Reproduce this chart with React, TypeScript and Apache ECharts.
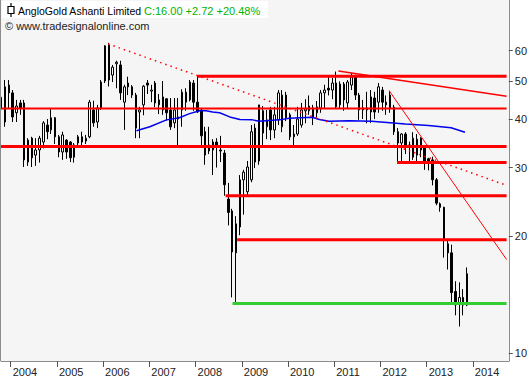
import React, { useEffect, useRef } from "react";
import * as echarts from "echarts";

// ---- data ----
const FIRST_YEAR = 2003;
const FIRST_MONTH = 10;

const opens = [
  42.5, 39.3, 48.9, 46.7, 41.5, 44.0, 44.0, 31.0, 35.7, 32.3, 33.3, 34.9,
  38.6, 37.5, 40.3, 36.0, 32.9, 35.3, 34.9, 31.9, 34.7, 36.0, 35.1, 36.0,
  42.2, 39.3, 42.7, 50.1, 62.0, 51.9, 55.5, 55.1, 44.2, 49.5, 48.4, 46.1,
  41.7, 43.5, 49.5, 47.2, 49.5, 43.5, 42.2, 45.1, 42.2, 39.1, 40.0, 42.2,
  44.2, 44.8, 49.5, 44.2, 42.2, 37.1, 33.1, 33.3, 34.9, 33.3, 32.7, 24.9,
  23.2, 18.1, 21.1, 27.9, 26.0, 27.9, 37.9, 31.2, 42.0, 38.2, 42.2, 37.5,
  39.8, 38.2, 46.1, 41.0, 36.0, 36.6, 38.6, 42.0, 42.0, 42.7, 41.5, 42.7,
  46.7, 48.0, 47.5, 49.5, 43.5, 49.2, 44.0, 48.9, 51.3, 46.1, 42.7, 42.7,
  45.6, 45.3, 44.2, 47.5, 44.2, 46.1, 42.9, 37.1, 34.7, 36.6, 33.9, 31.9,
  32.3, 35.7, 33.7, 31.6, 31.4, 27.9, 24.2, 23.7, 19.1, 18.1, 14.4, 13.4,
  13.9, 13.28,
];
const closes = [
  45.5, 48.4, 46.7, 40.5, 43.2, 42.7, 31.4, 35.3, 31.8, 33.3, 35.7, 39.1,
  37.1, 40.3, 36.0, 32.9, 36.4, 32.9, 31.8, 34.3, 36.0, 34.9, 35.7, 44.2,
  39.1, 42.7, 49.8, 61.7, 50.4, 54.4, 56.0, 46.7, 48.4, 48.4, 46.1, 37.9,
  42.2, 48.6, 48.9, 47.5, 44.0, 44.8, 45.6, 41.5, 38.2, 42.2, 40.5, 46.9,
  46.9, 49.8, 44.2, 41.7, 36.2, 32.3, 34.3, 34.9, 33.9, 33.1, 27.1, 23.0,
  18.2, 21.5, 27.9, 29.2, 30.1, 37.1, 31.0, 43.5, 36.8, 39.8, 37.5, 41.0,
  46.7, 46.1, 40.3, 36.0, 36.6, 40.0, 42.2, 42.5, 43.2, 40.5, 43.0, 46.7,
  47.5, 47.5, 49.5, 43.0, 49.2, 44.8, 49.8, 51.3, 46.1, 42.2, 42.2, 42.2,
  41.7, 41.7, 48.4, 44.2, 43.5, 42.7, 37.1, 34.7, 36.6, 34.3, 34.3, 35.7,
  35.5, 33.3, 31.0, 31.0, 27.9, 24.3, 23.7, 19.5, 18.1, 14.3, 13.3, 13.9,
  13.28, 16.0,
];
const lows = [
  41.0, 38.2, 42.7, 39.3, 39.3, 41.0, 30.1, 30.3, 30.1, 30.3, 30.9, 33.6,
  35.5, 36.6, 34.5, 31.9, 31.4, 31.6, 31.0, 30.9, 33.9, 33.9, 34.5, 35.7,
  38.2, 37.9, 42.2, 49.5, 48.5, 49.8, 48.0, 44.8, 37.5, 46.1, 45.3, 35.7,
  35.7, 40.9, 46.4, 44.2, 42.9, 41.2, 41.0, 39.6, 37.5, 37.9, 33.9, 38.2,
  42.0, 44.4, 42.0, 41.5, 33.7, 30.5, 32.5, 28.7, 30.0, 31.0, 25.4, 21.3,
  13.9, 13.4, 20.1, 22.7, 25.5, 27.5, 29.9, 30.5, 33.9, 35.5, 35.3, 35.7,
  38.6, 37.0, 39.5, 35.3, 34.3, 36.2, 38.0, 39.0, 41.0, 38.6, 40.0, 41.5,
  42.7, 46.0, 45.0, 42.5, 42.5, 42.0, 42.7, 47.5, 44.8, 39.8, 40.0, 39.0,
  39.1, 40.0, 41.5, 42.0, 41.0, 41.5, 36.4, 30.9, 31.2, 32.5, 31.2, 31.4,
  30.9, 31.9, 29.6, 29.5, 27.0, 24.0, 23.1, 17.6, 16.4, 13.4, 12.5, 11.7,
  12.5, 13.2,
];
const highs = [
  47.0, 50.4, 50.4, 47.5, 44.8, 44.8, 44.8, 35.7, 36.0, 35.7, 36.2, 39.5,
  40.0, 42.7, 40.5, 36.4, 37.1, 35.5, 35.1, 34.7, 36.4, 37.1, 36.4, 44.8,
  44.6, 43.5, 50.4, 62.0, 62.8, 55.1, 56.5, 56.5, 49.0, 51.4, 48.9, 46.7,
  43.0, 48.9, 50.4, 49.0, 50.1, 46.4, 50.1, 45.3, 45.3, 45.3, 45.3, 47.7,
  48.0, 50.4, 50.4, 51.6, 42.5, 38.2, 38.2, 35.5, 35.7, 36.2, 33.3, 27.4,
  23.5, 22.5, 28.7, 29.6, 31.2, 38.6, 38.9, 43.5, 43.2, 42.2, 43.0, 43.0,
  47.5, 47.5, 47.0, 41.5, 38.6, 43.0, 44.0, 45.0, 46.0, 43.5, 44.5, 47.5,
  49.0, 51.5, 51.0, 53.0, 50.0, 49.8, 50.4, 52.5, 52.0, 46.7, 44.8, 47.0,
  47.5, 47.0, 49.5, 48.4, 46.0, 47.3, 43.5, 37.9, 36.8, 37.0, 35.0, 37.0,
  36.6, 35.9, 34.3, 31.8, 32.0, 28.2, 24.4, 23.8, 19.5, 19.0, 15.3, 15.2,
  14.6, 16.6,
];

// moving average (year, price)
const maYears = [
  2006.72, 2007.01, 2007.37, 2007.65, 2007.87, 2008.09, 2008.23, 2008.37,
  2008.52, 2008.74, 2008.96, 2009.23, 2009.38, 2009.81, 2010.03, 2010.52,
  2010.68, 2010.89, 2011.32, 2011.81, 2012.54, 2013.04, 2013.53, 2013.83,
];
const maValues = [
  37.3, 38.2, 39.8, 40.3, 41.3, 42.0, 42.0, 41.7, 41.5, 40.5, 39.9, 39.8,
  39.5, 39.8, 40.2, 40.4, 39.9, 39.5, 39.6, 39.5, 38.85, 38.5, 38.0, 37.0,
];

// horizontal levels
const resistanceValues = [51.5, 42.6, 34.0, 30.9, 25.4, 19.57];
const resistanceStarts = [2008.04, 2003.79, 2003.79, 2012.36, 2008.65, 2008.9];
const supportValue = 13.4;
const supportStart = 2008.8;
const levelEnd = 2014.73;

// trend lines [year, price]
const dottedTrend = [[2006.11, 62.4], [2014.73, 27.0]];
const upperTrend = [[2011.09, 53.2], [2014.73, 45.8]];
const steepTrend = [[2012.19, 47.3], [2014.73, 17.4]];

const yearTicks = [2004, 2005, 2006, 2007, 2008, 2009, 2010, 2011, 2012, 2013, 2014];
const priceTicks = [10, 20, 30, 40, 50, 60];

const titleName = "AngloGold Ashanti Limited";
const titleQuote = "C:16.00 +2.72 +20.48%";
const titleSource = "\u00a9 www.tradesignalonline.com";

const X_MIN = 2003.7906;
const X_MAX = 2014.777;
const Y_MIN = 9.537;
const Y_MAX = 80.97;

const FONT = "'Liberation Sans', Arial, sans-serif";

function monthTime(i: number): number {
  const m = FIRST_MONTH - 1 + i;
  const y = FIRST_YEAR + Math.floor(m / 12);
  const mo = (m % 12) + 1;
  return y + (mo - 0.5) / 12;
}

export default function App() {
  const ref = useRef<HTMLDivElement>(null);

  useEffect(() => {
    document.body.style.margin = "0";
    if (!ref.current) return;
    const chart = echarts.init(ref.current, null, { renderer: "svg" });

    const candles = opens.map((o, i) => [monthTime(i), o, closes[i], lows[i], highs[i]]);
    const ma = maYears.map((t, i) => [t, maValues[i]]);

    const levelSeries = resistanceValues.map((v, i) => ({
      type: "line",
      data: [[resistanceStarts[i], v], [levelEnd, v]],
      symbol: "none",
      silent: true,
      z: 5,
      lineStyle: { color: "#ff0000", width: i === 1 ? 2 : 3 },
    }));

    const option: any = {
      animation: false,
      backgroundColor: "#ffffff",
      grid: {
        left: 1,
        right: 20,
        top: 0,
        bottom: 19,
        show: true,
        backgroundColor: "#f5f5f5",
        borderWidth: 0,
      },
      xAxis: {
        type: "value",
        min: X_MIN,
        max: X_MAX,
        axisLine: { show: true, onZero: false, lineStyle: { color: "#8c8c8c", width: 1 } },
        axisTick: { show: true, customValues: yearTicks, length: 6, lineStyle: { color: "#555" } },
        axisLabel: {
          customValues: yearTicks,
          formatter: (v: number) => String(Math.round(v)),
          align: "left",
          padding: [0, 0, 0, 2],
          margin: 5,
          color: "#222",
          fontFamily: FONT,
          fontSize: 11,
        },
        splitLine: { show: false },
      },
      yAxis: {
        type: "log",
        logBase: 10,
        position: "right",
        min: Y_MIN,
        max: Y_MAX,
        axisLine: { show: true, lineStyle: { color: "#8c8c8c", width: 1 } },
        axisTick: { show: true, customValues: priceTicks, length: 4, lineStyle: { color: "#555" } },
        axisLabel: {
          customValues: priceTicks,
          formatter: (v: number) => String(Math.round(v)),
          margin: 6,
          color: "#222",
          fontFamily: FONT,
          fontSize: 11,
        },
        splitLine: { show: false },
      },
      series: [
        {
          type: "candlestick",
          data: candles,
          barWidth: 2,
          z: 2,
          itemStyle: {
            color: "#ffffff",
            color0: "#000000",
            borderColor: "#000000",
            borderColor0: "#000000",
            borderWidth: 1,
          },
        },
        ...levelSeries,
        {
          type: "line",
          data: [[supportStart, supportValue], [levelEnd, supportValue]],
          symbol: "none",
          silent: true,
          z: 5,
          lineStyle: { color: "#33cc33", width: 3 },
        },
        {
          type: "line",
          data: ma,
          symbol: "none",
          silent: true,
          z: 6,
          lineStyle: { color: "#0000ee", width: 1.5 },
        },
        {
          type: "line",
          data: dottedTrend,
          symbol: "none",
          silent: true,
          z: 6,
          lineStyle: { color: "#ff0000", width: 1.5, type: [1.5, 4] },
        },
        {
          type: "line",
          data: upperTrend,
          symbol: "none",
          silent: true,
          z: 6,
          lineStyle: { color: "#ff0000", width: 1.5 },
        },
        {
          type: "line",
          data: steepTrend,
          symbol: "none",
          silent: true,
          z: 6,
          lineStyle: { color: "#ff0000", width: 1 },
        },
      ],
      graphic: [
        {
          type: "line",
          shape: { x1: 0.5, y1: 0, x2: 0.5, y2: 361 },
          style: { stroke: "#8c8c8c", lineWidth: 1 },
          z: 10,
        },
        {
          type: "rect",
          shape: { x: 2, y: 1, width: 266, height: 17 },
          style: { fill: "#ffffff" },
          z: 10,
        },
        {
          type: "line",
          shape: { x1: 11, y1: 3, x2: 11, y2: 17 },
          style: { stroke: "#000", lineWidth: 1.2 },
          z: 11,
        },
        {
          type: "rect",
          shape: { x: 8, y: 6.5, width: 6, height: 7 },
          style: { fill: "#ffffff", stroke: "#000", lineWidth: 1.2 },
          z: 12,
        },
        {
          type: "text",
          x: 18,
          y: 11,
          z: 12,
          style: {
            text: titleName,
            fill: "#000",
            font: `10.5px ${FONT}`,
            textVerticalAlign: "middle",
          },
        },
        {
          type: "text",
          x: 144,
          y: 11,
          z: 12,
          style: {
            text: titleQuote,
            fill: "#00b400",
            font: `11px ${FONT}`,
            textVerticalAlign: "middle",
          },
        },
        {
          type: "text",
          x: 5,
          y: 26,
          z: 12,
          style: {
            text: titleSource,
            fill: "#222",
            font: `11px ${FONT}`,
            textVerticalAlign: "middle",
          },
        },
      ],
    };

    chart.setOption(option);
    return () => chart.dispose();
  }, []);

  return <div ref={ref} style={{ width: 530, height: 380 }} />;
}
